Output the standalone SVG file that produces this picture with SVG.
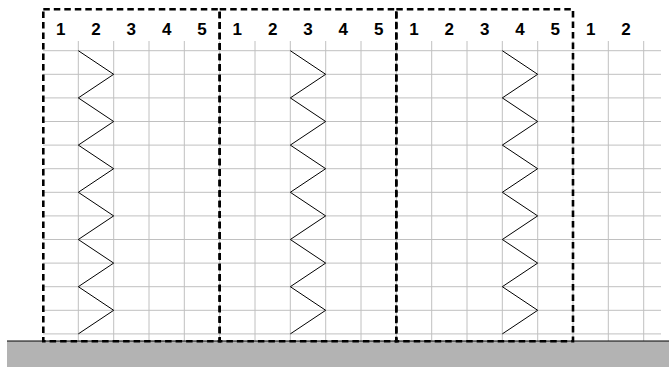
<svg xmlns="http://www.w3.org/2000/svg" width="669" height="367" viewBox="0 0 669 367">
<style>
.grid{stroke:#c0c0c0;stroke-width:1;fill:none}
.zig{stroke:#000;stroke-width:1;fill:none}
.box{stroke:#000;stroke-width:2.6;fill:none;stroke-dasharray:6.5 4}
.lbl{font-family:"Liberation Sans",Arial,sans-serif;font-weight:bold;font-size:17px;fill:#000;text-anchor:middle}
</style>
<rect width="669" height="367" fill="#fff"/>
<g id="grid">
<path class="grid" d="M43 50.7H661M43 74.3H661M43 97.9H661M43 121.5H661M43 145.1H661M43 168.7H661M43 192.3H661M43 215.9H661M43 239.5H661M43 263.1H661M43 286.7H661M43 310.3H661M43 333.9H661"/>
<path class="grid" d="M78.3 41V341M113.7 41V341M149 41V341M184.3 41V341M219.7 41V341M255 41V341M290.3 41V341M325.7 41V341M361 41V341M396.3 41V341M431.7 41V341M467 41V341M502.3 41V341M537.7 41V341M573 41V341M608.3 41V341M643.7 41V341"/>
</g>
<g id="ground">
<rect x="7" y="341" width="662" height="26" fill="#b3b3b3"/>
<line x1="7" y1="341" x2="669" y2="341" stroke="#000" stroke-width="1"/>
</g>
<g id="labels">
<text class="lbl" x="60.7" y="34.5">1</text><text class="lbl" x="96" y="34.5">2</text><text class="lbl" x="131.3" y="34.5">3</text><text class="lbl" x="166.7" y="34.5">4</text><text class="lbl" x="202" y="34.5">5</text>
<text class="lbl" x="237.3" y="34.5">1</text><text class="lbl" x="272.7" y="34.5">2</text><text class="lbl" x="308" y="34.5">3</text><text class="lbl" x="343.3" y="34.5">4</text><text class="lbl" x="378.7" y="34.5">5</text>
<text class="lbl" x="414" y="34.5">1</text><text class="lbl" x="449.3" y="34.5">2</text><text class="lbl" x="484.7" y="34.5">3</text><text class="lbl" x="520" y="34.5">4</text><text class="lbl" x="555.3" y="34.5">5</text>
<text class="lbl" x="590.7" y="34.5">1</text><text class="lbl" x="626" y="34.5">2</text>
</g>
<g id="connectors">
<polyline class="zig" points="78.3,50.7 113.7,74.3 78.3,97.9 113.7,121.5 78.3,145.1 113.7,168.7 78.3,192.3 113.7,215.9 78.3,239.5 113.7,263.1 78.3,286.7 113.7,310.3 78.3,333.9"/>
<polyline class="zig" points="290.3,50.7 325.7,74.3 290.3,97.9 325.7,121.5 290.3,145.1 325.7,168.7 290.3,192.3 325.7,215.9 290.3,239.5 325.7,263.1 290.3,286.7 325.7,310.3 290.3,333.9"/>
<polyline class="zig" points="502.3,50.7 537.7,74.3 502.3,97.9 537.7,121.5 502.3,145.1 537.7,168.7 502.3,192.3 537.7,215.9 502.3,239.5 537.7,263.1 502.3,286.7 537.7,310.3 502.3,333.9"/>
</g>
<g id="box1"><rect class="box" x="43.3" y="9.3" width="176.4" height="332"/></g>
<g id="box2"><rect class="box" x="219.7" y="9.3" width="176.6" height="332"/></g>
<g id="box3"><rect class="box" x="396.3" y="9.3" width="176.7" height="332"/></g>
</svg>
